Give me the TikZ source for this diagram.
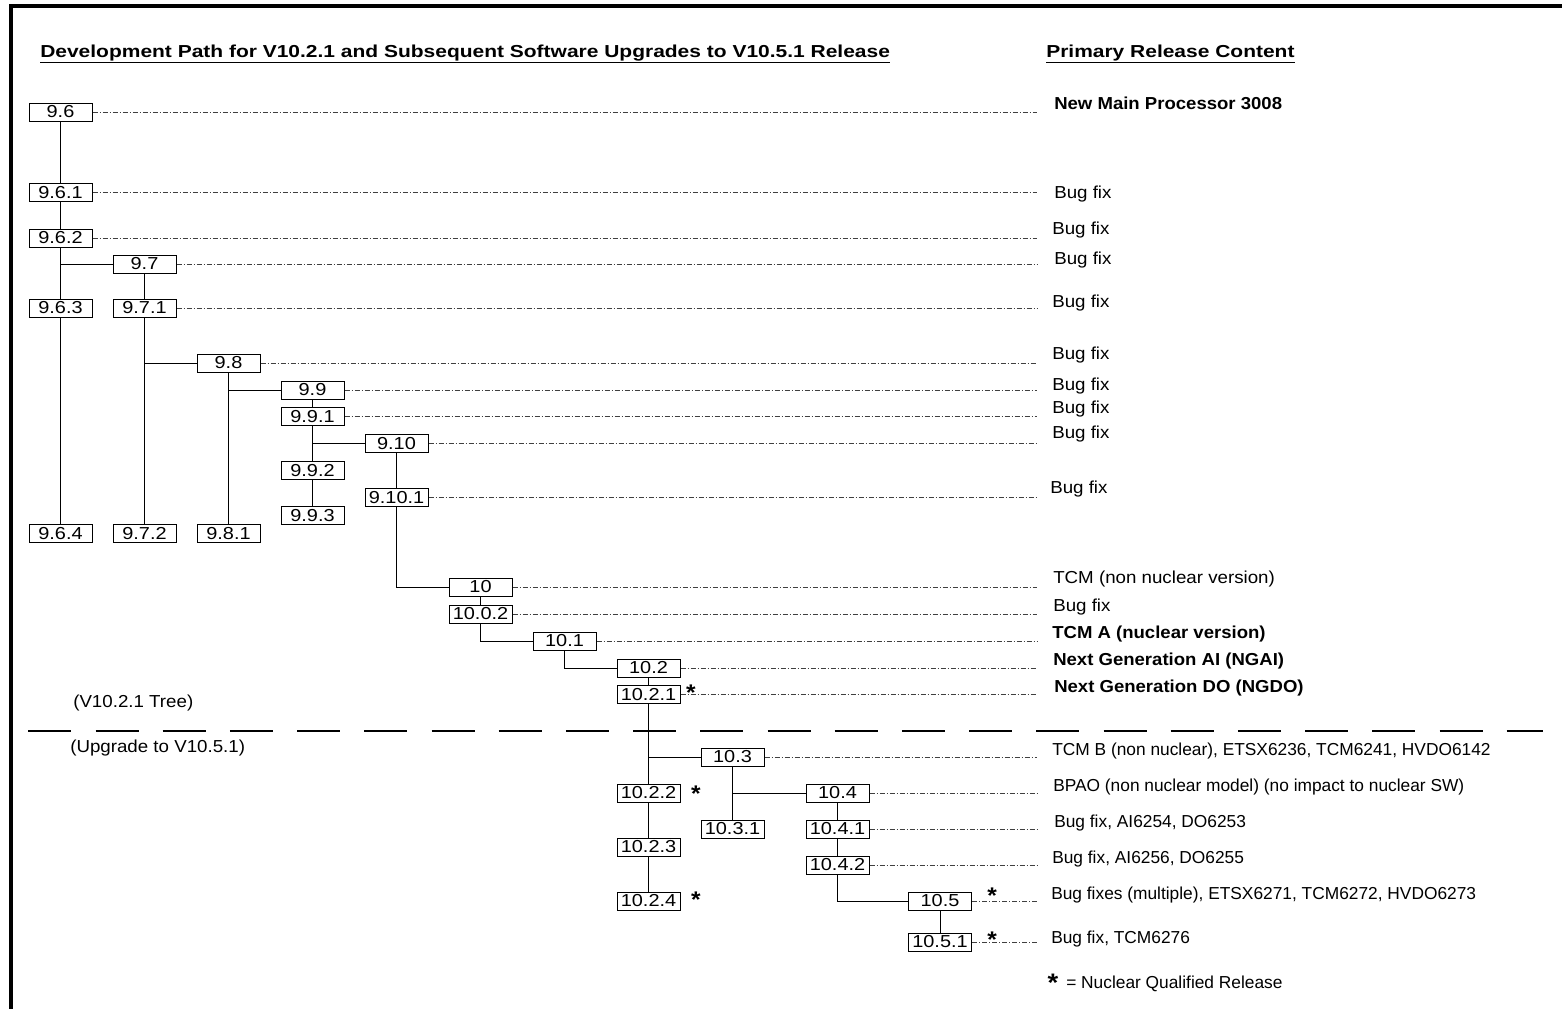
\documentclass[tikz,border=0pt]{standalone}
\usepackage{fontspec}
\setmainfont{Liberation Sans}[FakeStretch=1.08]
\newfontfamily\lowfont{Liberation Sans}[FakeStretch=1.0]
\newfontfamily\boldlab{Liberation Sans Bold}[FakeStretch=1.07]
\newfontfamily\boxfont{Liberation Sans}[FakeStretch=1.15]
\newfontfamily\titlefont{Liberation Sans Bold}[FakeStretch=1.21]
\begin{document}
\begin{tikzpicture}[x=0.75pt,y=-0.75pt,
  ver/.style={draw, line width=0.75pt, minimum width=47.25pt, minimum height=13.5pt, inner sep=0pt, font=\boxfont\fontsize{13}{15}\selectfont},
  lbl/.style={anchor=base west, inner sep=0pt, font=\fontsize{13}{15}\selectfont},
  lowlbl/.style={anchor=base west, inner sep=0pt, font=\lowfont\fontsize{13}{15}\selectfont},
  blbl/.style={anchor=base west, inner sep=0pt, font=\boldlab\fontsize{13}{15}\selectfont},
  ttl/.style={anchor=base west, inner sep=0pt, font=\titlefont\fontsize{13}{15}\selectfont},
  nq/.style={anchor=base, inner sep=0pt, font=\bfseries\fontsize{17}{20}\selectfont},
  link/.style={line width=0.75pt},
  ddot/.style={line width=0.6pt, black!75, dash pattern=on 3.75pt off 1.5pt on 0.75pt off 1.5pt}]
\useasboundingbox (0,0) rectangle (1562,1008);
% frame
\draw[line width=3.4pt, line join=miter] (10.8,1010) -- (10.8,6) -- (1564,6);
% titles
\node[ttl] (title) at (40,57) {\underline{Development Path for V10.2.1 and Subsequent Software Upgrades to V10.5.1 Release}};
\node[ttl] (prc) at (1046,57) {\underline{Primary Release Content}};
% version boxes
\node[ver] (v96)   at (60.5,112)   {9.6};
\node[ver] (v961)  at (60.5,192.5) {9.6.1};
\node[ver] (v962)  at (60.5,238)   {9.6.2};
\node[ver] (v97)   at (144.5,264)  {9.7};
\node[ver] (v963)  at (60.5,308)   {9.6.3};
\node[ver] (v971)  at (144.5,308)  {9.7.1};
\node[ver] (v98)   at (228.5,363)  {9.8};
\node[ver] (v99)   at (312.5,390)  {9.9};
\node[ver] (v991)  at (312.5,416.5) {9.9.1};
\node[ver] (v910)  at (396.5,443.5) {9.10};
\node[ver] (v992)  at (312.5,470.5) {9.9.2};
\node[ver] (v9101) at (396.5,497.5) {9.10.1};
\node[ver] (v993)  at (312.5,515.5) {9.9.3};
\node[ver] (v964)  at (60.5,533.5)  {9.6.4};
\node[ver] (v972)  at (144.5,533.5) {9.7.2};
\node[ver] (v981)  at (228.5,533.5) {9.8.1};
\node[ver] (v10)   at (480.5,587)   {10};
\node[ver] (v1002) at (480.5,614)   {10.0.2};
\node[ver] (v101)  at (564.5,641)   {10.1};
\node[ver] (v102)  at (648.5,668)   {10.2};
\node[ver] (v1021) at (648.5,694.5) {10.2.1};
\node[ver] (v103)  at (732.5,757)   {10.3};
\node[ver] (v1022) at (648.5,793)   {10.2.2};
\node[ver] (v104)  at (837.5,793)   {10.4};
\node[ver] (v1031) at (732.5,829)   {10.3.1};
\node[ver] (v1041) at (837.5,829)   {10.4.1};
\node[ver] (v1023) at (648.5,847)   {10.2.3};
\node[ver] (v1042) at (837.5,865)   {10.4.2};
\node[ver] (v1024) at (648.5,901)   {10.2.4};
\node[ver] (v105)  at (940,901)     {10.5};
\node[ver] (v1051) at (940,942)     {10.5.1};
% tree connectors
\draw[link] (v96) -- (v961);
\draw[link] (v961) -- (v962);
\draw[link] (v962) -- (v963);
\draw[link] (v963) -- (v964);
\draw[link] (v962 |- v97) -- (v97);
\draw[link] (v97) -- (v971);
\draw[link] (v971) -- (v972);
\draw[link] (v971 |- v98) -- (v98);
\draw[link] (v98) -- (v981);
\draw[link] (v98 |- v99) -- (v99);
\draw[link] (v99) -- (v991);
\draw[link] (v991) -- (v992);
\draw[link] (v992) -- (v993);
\draw[link] (v991 |- v910) -- (v910);
\draw[link] (v910) -- (v9101);
\draw[link] (v9101.south) -- (v9101 |- v10) -- (v10.west);
\draw[link] (v10) -- (v1002);
\draw[link] (v1002.south) -- (v1002 |- v101) -- (v101.west);
\draw[link] (v101.south) -- (v101 |- v102) -- (v102.west);
\draw[link] (v102) -- (v1021);
\draw[link] (v1021) -- (v1022);
\draw[link] (v1022) -- (v1023);
\draw[link] (v1023) -- (v1024);
\draw[link] (v1021 |- v103) -- (v103);
\draw[link] (v103) -- (v1031);
\draw[link] (v103 |- v104) -- (v104);
\draw[link] (v104) -- (v1041);
\draw[link] (v1041) -- (v1042);
\draw[link] (v1042.south) -- (v1042 |- v105) -- (v105.west);
\draw[link] (v105) -- (v1051);
% dash-dot leaders
\coordinate (rend) at (1037,0);
\foreach \n in {v96,v961,v962,v97,v971,v98,v99,v991,v910,v9101,v10,v1002,v101,v102,v1021,v103,v104,v1041,v1042,v105,v1051}
  \draw[ddot] (\n.east) -- (\n.east -| rend);
% separator
\draw[line width=1.9pt, dash pattern=on 32.25pt off 18.15pt] (28.3,731) -- (1543,731);
\node[lbl, anchor=west] (tree) at (73,703) {(V10.2.1 Tree)};
\node[lbl, anchor=west] (upg) at (70,748) {(Upgrade to V10.5.1)};
% nuclear stars
\node[nq] (s1) at (691,700) {*};
\node[nq] (s2) at (696,801) {*};
\node[nq] (s3) at (696,907) {*};
\node[nq] (s4) at (992,903) {*};
\node[nq] (s5) at (992,947) {*};
% release content
\node[blbl] (c96) at (1054,109) {New Main Processor 3008};
\node[lbl] (c961) at (1054,198) {Bug fix};
\node[lbl] (c962) at (1052,234) {Bug fix};
\node[lbl] (c97) at (1054,264) {Bug fix};
\node[lbl] (c971) at (1052,307) {Bug fix};
\node[lbl] (c98) at (1052,359) {Bug fix};
\node[lbl] (c99) at (1052,390) {Bug fix};
\node[lbl] (c991) at (1052,413) {Bug fix};
\node[lbl] (c910) at (1052,438) {Bug fix};
\node[lbl] (c9101) at (1050,493) {Bug fix};
\node[lbl] (c10) at (1053,583) {TCM (non nuclear version)};
\node[lbl] (c1002) at (1053,611) {Bug fix};
\node[blbl] (c101) at (1052,638) {TCM A (nuclear version)};
\node[blbl] (c102) at (1053,665) {Next Generation AI (NGAI)};
\node[blbl] (c1021) at (1054,692) {Next Generation DO (NGDO)};
\node[lowlbl] (c103) at (1052,755) {TCM B (non nuclear), ETSX6236, TCM6241, HVDO6142};
\node[lowlbl] (c104) at (1053,791) {BPAO (non nuclear model) (no impact to nuclear SW)};
\node[lowlbl] (c1041) at (1054,827) {Bug fix, AI6254, DO6253};
\node[lowlbl] (c1042) at (1052,863) {Bug fix, AI6256, DO6255};
\node[lowlbl] (c105) at (1051,899) {Bug fixes (multiple), ETSX6271, TCM6272, HVDO6273};
\node[lowlbl] (c1051) at (1051,943) {Bug fix, TCM6276};
% legend
\node[nq, font=\bfseries\fontsize{19}{22}\selectfont] (ls) at (1053,991) {*};
\node[lowlbl] (lt) at (1066,988) {= Nuclear Qualified Release};
\end{tikzpicture}
\end{document}
